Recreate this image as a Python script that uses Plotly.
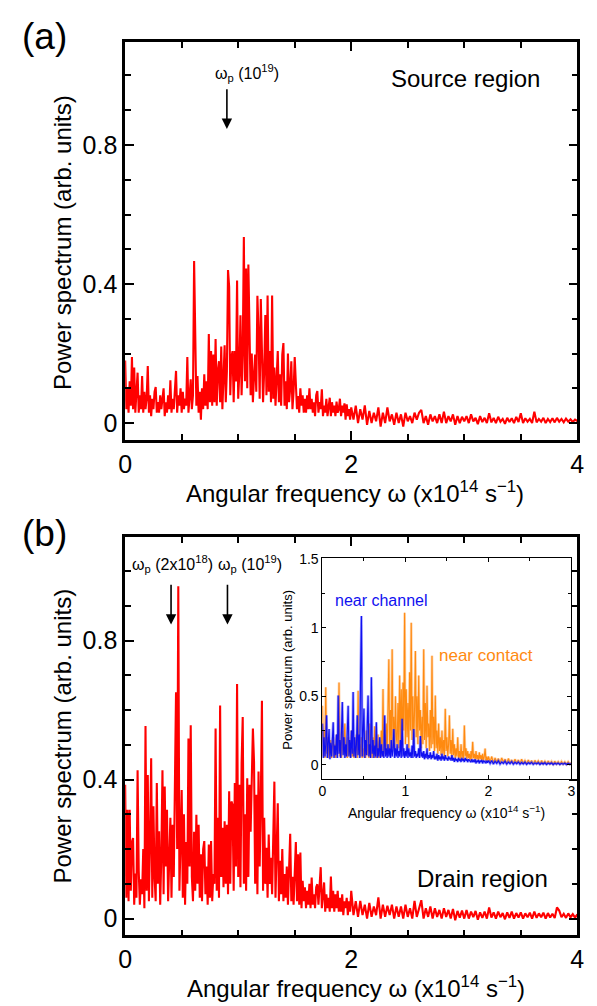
import numpy as np
import plotly.graph_objects as go

# ---------------- data ----------------
# frequency grids (x10^14 s^-1)
freq_main = np.round(np.concatenate([np.arange(0, 201) * 0.01, 2 + np.arange(1, 101) * 0.02]), 3)
freq_inset = np.round(np.concatenate([np.arange(0, 201) * 0.01, 2 + np.arange(1, 51) * 0.02]), 3)

# Panel (a): source region power spectrum
source_power = [
    0.18, 0.04, 0.10, 0.03, 0.12, 0.05, 0.19, 0.04, 0.16, 0.03,
    0.09, 0.145, 0.03, 0.08, 0.04, 0.135, 0.03, 0.09, 0.04, 0.07,
    0.164, 0.03, 0.08, 0.02, 0.07, 0.04, 0.09, 0.104, 0.03, 0.06,
    0.03, 0.08, 0.04, 0.07, 0.10, 0.02, 0.06, 0.03, 0.08, 0.04,
    0.123, 0.03, 0.07, 0.04, 0.09, 0.15, 0.03, 0.08, 0.05, 0.10,
    0.03, 0.09, 0.04, 0.07, 0.05, 0.19, 0.03, 0.10, 0.126, 0.04,
    0.08, 0.466, 0.235, 0.05, 0.135, 0.03, 0.09, 0.01, 0.10, 0.04,
    0.14, 0.05, 0.12, 0.04, 0.256, 0.06, 0.207, 0.05, 0.197, 0.06,
    0.242, 0.05, 0.15, 0.178, 0.06, 0.22, 0.04, 0.13, 0.224, 0.06,
    0.15, 0.44, 0.392, 0.08, 0.19, 0.207, 0.06, 0.207, 0.12, 0.41,
    0.07, 0.145, 0.31, 0.08, 0.20, 0.535, 0.12, 0.445, 0.10, 0.456,
    0.292, 0.08, 0.20, 0.06, 0.135, 0.197, 0.09, 0.366, 0.26, 0.07,
    0.357, 0.197, 0.06, 0.15, 0.311, 0.08, 0.367, 0.09, 0.207, 0.06,
    0.367, 0.07, 0.16, 0.05, 0.12, 0.207, 0.06, 0.14, 0.05, 0.197,
    0.23, 0.05, 0.12, 0.04, 0.20, 0.06, 0.10, 0.178, 0.04, 0.09,
    0.19, 0.13, 0.04, 0.078, 0.03, 0.10, 0.05, 0.08, 0.03, 0.07,
    0.03, 0.08, 0.04, 0.10, 0.04, 0.07, 0.03, 0.06, 0.02, 0.08,
    0.092, 0.03, 0.06, 0.04, 0.097, 0.02, 0.05, 0.03, 0.07, 0.02,
    0.05, 0.073, 0.02, 0.06, 0.03, 0.05, 0.02, 0.062, 0.03, 0.04,
    0.07, 0.02, 0.05, 0.03, 0.057, 0.01, 0.054, 0.02, 0.04, 0.01,
    0.045,
    0.01, 0.05, 0.00, 0.04, 0.01, 0.051, -0.005, 0.035, 0.00, 0.03,
    0.005, 0.045, -0.01, 0.03, 0.00, 0.045, 0.005, 0.025, -0.005, 0.03,
    0.00, 0.025, -0.01, 0.03, 0.005, 0.02, 0.00, 0.03, 0.01, 0.03,
    0.038, 0.00, 0.02, -0.005, 0.025, 0.005, 0.02, 0.00, 0.025, 0.00,
    0.033, 0.00, 0.02, 0.005, 0.025, -0.005, 0.02, 0.00, 0.018, 0.005,
    0.02, 0.00, 0.025, 0.005, 0.015, -0.003, 0.02, 0.003, 0.015, 0.00,
    0.028, 0.002, 0.015, 0.00, 0.018, 0.004, 0.012, -0.002, 0.015, 0.003,
    0.014, 0.00, 0.018, 0.003, 0.028, 0.00, 0.014, 0.004, 0.012, 0.00,
    0.033, 0.002, 0.012, 0.004, 0.015, 0.00, 0.012, 0.003, 0.014, 0.002,
    0.015, 0.004, 0.012, 0.002, 0.013, 0.004, 0.011, 0.003, 0.01, 0.006,
]

# Panel (b): drain region power spectrum
drain_power = [
    0.385, 0.06, 0.313, 0.05, 0.313, 0.08, 0.22, 0.232, 0.04, 0.13,
    0.06, 0.427, 0.137, 0.04, 0.113, 0.07, 0.20, 0.03, 0.554, 0.08,
    0.413, 0.05, 0.22, 0.461, 0.06, 0.323, 0.12, 0.05, 0.39, 0.10,
    0.251, 0.04, 0.18, 0.427, 0.07, 0.38, 0.15, 0.313, 0.05, 0.20,
    0.29, 0.06, 0.27, 0.12, 0.47, 0.651, 0.20, 0.956, 0.08, 0.25,
    0.37, 0.06, 0.30, 0.04, 0.22, 0.10, 0.518, 0.15, 0.556, 0.12,
    0.05, 0.25, 0.08, 0.299, 0.10, 0.27, 0.06, 0.185, 0.05, 0.20,
    0.223, 0.07, 0.15, 0.04, 0.213, 0.06, 0.223, 0.05, 0.128, 0.10,
    0.547, 0.08, 0.29, 0.06, 0.613, 0.12, 0.261, 0.09, 0.28, 0.10,
    0.27, 0.07, 0.366, 0.10, 0.337, 0.328, 0.08, 0.39, 0.15, 0.675,
    0.12, 0.385, 0.09, 0.447, 0.58, 0.10, 0.30, 0.08, 0.404, 0.12,
    0.385, 0.25, 0.47, 0.547, 0.451, 0.10, 0.356, 0.07, 0.423, 0.15,
    0.337, 0.627, 0.08, 0.29, 0.10, 0.204, 0.06, 0.242, 0.10, 0.175,
    0.07, 0.28, 0.394, 0.06, 0.223, 0.332, 0.05, 0.166, 0.07, 0.20,
    0.05, 0.128, 0.06, 0.15, 0.04, 0.147, 0.244, 0.05, 0.12, 0.04,
    0.128, 0.22, 0.05, 0.185, 0.04, 0.19, 0.03, 0.109, 0.05, 0.09,
    0.03, 0.08, 0.04, 0.10, 0.03, 0.118, 0.04, 0.07, 0.03, 0.09,
    0.099, 0.04, 0.094, 0.148, 0.03, 0.08, 0.104, 0.02, 0.07, 0.03,
    0.06, 0.02, 0.121, 0.03, 0.08, 0.02, 0.07, 0.03, 0.08, 0.02,
    0.06, 0.02, 0.07, 0.01, 0.05, 0.03, 0.06, 0.01, 0.05, 0.02,
    0.08,
    0.01, 0.05, 0.005, 0.051, 0.01, 0.04, 0.00, 0.045, 0.005, 0.035,
    0.01, 0.061, 0.00, 0.04, 0.005, 0.037, 0.01, 0.04, 0.00, 0.035,
    0.005, 0.035, 0.00, 0.04, 0.005, 0.03, 0.00, 0.051, 0.005, 0.03,
    0.053, 0.00, 0.03, 0.005, 0.035, 0.00, 0.03, 0.005, 0.025, 0.00,
    0.03, 0.005, 0.025, 0.00, 0.028, -0.005, 0.022, 0.003, 0.023, 0.00,
    0.025, 0.00, 0.02, 0.004, 0.022, -0.003, 0.018, 0.002, 0.02, 0.00,
    0.032, 0.003, 0.018, 0.00, 0.02, 0.004, 0.016, -0.002, 0.018, 0.002,
    0.02, 0.00, 0.016, 0.003, 0.018, 0.00, 0.015, 0.004, 0.017, 0.00,
    0.02, 0.002, 0.015, 0.004, 0.017, 0.00, 0.016, 0.003, 0.014, 0.002,
    0.032, 0.023, 0.004, 0.014, 0.002, 0.015, 0.004, 0.013, 0.003, 0.012,
]

# Inset: near channel (blue) and near contact (orange)
near_channel = [
    0.30, 0.05, 0.20, 0.06, 0.15, 0.36, 0.05, 0.18, 0.26, 0.04,
    0.16, 0.06, 0.20, 0.31, 0.05, 0.14, 0.07, 0.22, 0.05, 0.505,
    0.08, 0.18, 0.05, 0.25, 0.457, 0.07, 0.20, 0.05, 0.15, 0.06,
    0.22, 0.43, 0.06, 0.18, 0.05, 0.25, 0.08, 0.53, 0.06, 0.20,
    0.05, 0.15, 0.36, 0.07, 0.22, 0.05, 0.686, 1.085, 0.06, 0.20,
    0.41, 0.05, 0.18, 0.07, 0.25, 0.505, 0.06, 0.15, 0.05, 0.638,
    0.08, 0.18, 0.05, 0.14, 0.06, 0.31, 0.05, 0.12, 0.06, 0.20,
    0.05, 0.15, 0.06, 0.10, 0.05, 0.36, 0.06, 0.12, 0.05, 0.15,
    0.06, 0.12, 0.05, 0.18, 0.06, 0.10, 0.26, 0.05, 0.12, 0.06,
    0.15, 0.05, 0.10, 0.06, 0.18, 0.05, 0.336, 0.06, 0.12, 0.05,
    0.10, 0.06, 0.15, 0.05, 0.12, 0.06, 0.09, 0.05, 0.14, 0.05,
    0.26, 0.06, 0.10, 0.05, 0.08, 0.06, 0.12, 0.05, 0.21, 0.06,
    0.09, 0.05, 0.10, 0.04, 0.08, 0.05, 0.12, 0.04, 0.07, 0.05,
    0.09, 0.04, 0.07, 0.05, 0.10, 0.04, 0.06, 0.04, 0.08, 0.03,
    0.07, 0.04, 0.06, 0.03, 0.08, 0.04, 0.06, 0.03, 0.07, 0.04,
    0.05, 0.03, 0.06, 0.04, 0.05, 0.03, 0.07, 0.03, 0.05, 0.02,
    0.05, 0.03, 0.04, 0.02, 0.05, 0.03, 0.04, 0.02, 0.05, 0.03,
    0.04, 0.02, 0.05, 0.03, 0.04, 0.02, 0.04, 0.03, 0.03, 0.02,
    0.04, 0.02, 0.03, 0.02, 0.04, 0.01, 0.03, 0.02, 0.035, 0.01,
    0.03, 0.02, 0.035, 0.01, 0.03, 0.02, 0.025, 0.01, 0.03, 0.015,
    0.03,
    0.01, 0.03, 0.005, 0.025, 0.01, 0.028, 0.005, 0.02, 0.01, 0.025,
    0.005, 0.02, 0.008, 0.022, 0.004, 0.018, 0.008, 0.02, 0.004, 0.016,
    0.006, 0.018, 0.003, 0.015, 0.007, 0.017, 0.003, 0.014, 0.006, 0.015,
    0.002, 0.013, 0.005, 0.014, 0.002, 0.012, 0.005, 0.013, 0.002, 0.011,
    0.004, 0.012, 0.002, 0.01, 0.004, 0.011, 0.002, 0.01, 0.003, 0.008,
]

near_contact = [
    0.43, 0.06, 0.25, 0.05, 0.565, 0.08, 0.20, 0.05, 0.15, 0.07,
    0.18, 0.05, 0.12, 0.20, 0.06, 0.15, 0.05, 0.22, 0.08, 0.14,
    0.60, 0.06, 0.18, 0.05, 0.25, 0.08, 0.15, 0.30, 0.06, 0.12,
    0.05, 0.20, 0.07, 0.15, 0.05, 0.25, 0.06, 0.12, 0.05, 0.18,
    0.07, 0.22, 0.05, 0.54, 0.08, 0.15, 0.06, 0.20, 0.05, 0.12,
    0.06, 0.18, 0.05, 0.25, 0.07, 0.15, 0.05, 0.30, 0.06, 0.14,
    0.05, 0.20, 0.07, 0.28, 0.05, 0.15, 0.06, 0.22, 0.05, 0.18,
    0.10, 0.25, 0.06, 0.553, 0.08, 0.22, 0.10, 0.30, 0.07, 0.45,
    0.77, 0.10, 0.40, 0.15, 0.843, 0.12, 0.35, 0.10, 0.50, 0.20,
    0.15, 0.45, 0.12, 0.65, 0.18, 0.55, 0.10, 0.60, 0.25, 1.109,
    0.15, 0.55, 0.20, 0.45, 0.12, 0.674, 0.25, 1.036, 0.18, 0.50,
    0.15, 0.40, 0.83, 0.20, 0.50, 0.15, 0.65, 0.25, 0.40, 0.12,
    0.35, 0.15, 0.843, 0.18, 0.45, 0.12, 0.577, 0.20, 0.30, 0.10,
    0.40, 0.12, 0.795, 0.15, 0.35, 0.10, 0.505, 0.12, 0.25, 0.08,
    0.30, 0.10, 0.20, 0.07, 0.25, 0.08, 0.18, 0.06, 0.408, 0.10,
    0.20, 0.06, 0.15, 0.36, 0.08, 0.18, 0.05, 0.263, 0.07, 0.15,
    0.05, 0.12, 0.06, 0.20, 0.05, 0.10, 0.04, 0.15, 0.05, 0.10,
    0.04, 0.287, 0.06, 0.12, 0.04, 0.10, 0.05, 0.08, 0.03, 0.10,
    0.04, 0.167, 0.05, 0.08, 0.03, 0.10, 0.04, 0.07, 0.03, 0.09,
    0.04, 0.07, 0.03, 0.08, 0.03, 0.06, 0.118, 0.03, 0.06, 0.02,
    0.06,
    0.02, 0.06, 0.015, 0.05, 0.02, 0.045, 0.01, 0.05, 0.02, 0.04,
    0.01, 0.045, 0.015, 0.035, 0.01, 0.04, 0.012, 0.035, 0.008, 0.04,
    0.01, 0.03, 0.008, 0.035, 0.01, 0.03, 0.006, 0.032, 0.01, 0.028,
    0.005, 0.03, 0.008, 0.025, 0.005, 0.028, 0.007, 0.024, 0.004, 0.026,
    0.006, 0.022, 0.004, 0.024, 0.005, 0.02, 0.003, 0.022, 0.005, 0.015,
]

assert len(source_power) == len(freq_main)
assert len(drain_power) == len(freq_main)
assert len(near_channel) == len(freq_inset)
assert len(near_contact) == len(freq_inset)

main_xticks = [0, 2, 4]
main_yticks = [0, 0.4, 0.8]
inset_xticks = [0, 1, 2, 3]
inset_yticks = [0, 0.5, 1, 1.5]

# ---------------- figure ----------------
W, H = 597, 1006
FONT = "Liberation Sans, Arial, Helvetica, sans-serif"
RED = "#ff0000"
BLUE = "#1010f0"
ORANGE = "#ff8a10"


def px(x):
    return x / W


def py(y):
    return 1 - y / H


fig = go.Figure()

fig.add_trace(go.Scatter(x=freq_main, y=source_power, mode="lines",
                         line=dict(color=RED, width=2.1), xaxis="x", yaxis="y",
                         showlegend=False))
fig.add_trace(go.Scatter(x=freq_main, y=drain_power, mode="lines",
                         line=dict(color=RED, width=2.1), xaxis="x2", yaxis="y2",
                         showlegend=False))
# inset: halo + line for each series
fig.add_trace(go.Scatter(x=freq_inset, y=near_contact, mode="lines",
                         line=dict(color="rgba(255,170,90,0.5)", width=2.6),
                         xaxis="x3", yaxis="y3", showlegend=False))
fig.add_trace(go.Scatter(x=freq_inset, y=near_contact, mode="lines",
                         line=dict(color=ORANGE, width=1.1),
                         xaxis="x3", yaxis="y3", showlegend=False))
fig.add_trace(go.Scatter(x=freq_inset, y=near_channel, mode="lines",
                         line=dict(color="rgba(60,60,255,0.5)", width=2.6),
                         xaxis="x3", yaxis="y3", showlegend=False))
fig.add_trace(go.Scatter(x=freq_inset, y=near_channel, mode="lines",
                         line=dict(color=BLUE, width=1.1),
                         xaxis="x3", yaxis="y3", showlegend=False))

main_dom_x = [px(121), px(584)]
dom_a = [py(436), py(35)]
dom_b = [py(935), py(534)]
yr = [-0.0486, 1.097]


def main_xaxis(anchor):
    return dict(domain=main_dom_x, range=[0, 4], anchor=anchor,
                tickvals=main_xticks, ticktext=[str(t) for t in main_xticks],
                ticks="inside", ticklen=9, tickwidth=2, tickcolor="black",
                minor=dict(dtick=0.5, tick0=0, ticks="inside", ticklen=6,
                           tickwidth=1.6, tickcolor="black"),
                showline=True, linewidth=2.6, linecolor="black", mirror="allticks",
                showgrid=False, zeroline=False,
                tickfont=dict(family=FONT, size=25, color="black"))


def main_yaxis(anchor, dom):
    return dict(domain=dom, range=yr, anchor=anchor,
                tickvals=main_yticks, ticktext=["0", "0.4", "0.8"],
                ticks="inside", ticklen=9, tickwidth=2, tickcolor="black",
                minor=dict(dtick=0.1, tick0=0, ticks="inside", ticklen=6,
                           tickwidth=1.6, tickcolor="black"),
                showline=True, linewidth=2.6, linecolor="black", mirror="allticks",
                showgrid=False, zeroline=False,
                tickfont=dict(family=FONT, size=25, color="black"))


fig.update_layout(
    width=W, height=H,
    margin=dict(l=0, r=0, t=0, b=0),
    paper_bgcolor="white", plot_bgcolor="white",
    font=dict(family=FONT, color="black"),
    xaxis=main_xaxis("y"),
    yaxis=main_yaxis("x", dom_a),
    xaxis2=main_xaxis("y2"),
    yaxis2=main_yaxis("x2", dom_b),
    xaxis3=dict(domain=[px(323), px(578)], range=[0, 3], anchor="y3",
                tickvals=inset_xticks, ticktext=[str(t) for t in inset_xticks],
                ticks="inside", ticklen=4, tickwidth=1, tickcolor="black",
                minor=dict(dtick=0.5, tick0=0, ticks="inside", ticklen=3,
                           tickwidth=1, tickcolor="black"),
                showline=True, linewidth=1, linecolor="black", mirror="allticks",
                showgrid=False, zeroline=False,
                tickfont=dict(family=FONT, size=14, color="black")),
    yaxis3=dict(domain=[py(777), py(555)], range=[-0.101, 1.507], anchor="x3",
                tickvals=inset_yticks, ticktext=["0", "0.5", "1", "1.5"],
                ticks="inside", ticklen=4, tickwidth=1, tickcolor="black",
                minor=dict(dtick=0.25, tick0=0, ticks="inside", ticklen=3,
                           tickwidth=1, tickcolor="black"),
                showline=True, linewidth=1, linecolor="black", mirror="allticks",
                showgrid=False, zeroline=False,
                tickfont=dict(family=FONT, size=14, color="black")),
)

ann = []


def text(x, y, s, size, color="black", angle=0):
    ann.append(dict(x=px(x), y=py(y), xref="paper", yref="paper", text=s,
                    showarrow=False, textangle=angle, xanchor="center", yanchor="middle",
                    font=dict(family=FONT, size=size, color=color)))


xtitle = "Angular frequency ω (x10<sup>14</sup> s<sup>−1</sup>)"
ytitle = "Power spectrum (arb. units)"

text(38, 30, "(a)", 37)
text(38, 530, "(b)", 37)
text(57, 237, ytitle, 24, angle=-90)
text(57, 734, ytitle, 24, angle=-90)
text(356, 488, xtitle, 24)
text(357, 987, xtitle, 24)
text(470, 72, "Source region", 24)
text(487, 878, "Drain region", 24)
text(246, 66, "ω<sub>p</sub> (10<sup>19</sup>)", 16)
text(169, 561, "ω<sub>p</sub> (2x10<sup>18</sup>)", 16)
text(249, 561, "ω<sub>p</sub> (10<sup>19</sup>)", 16)
text(287, 667, ytitle, 13, angle=-90)
text(450, 811, xtitle, 14)
text(383, 598, "near channel", 16, color=BLUE)
text(490, 653, "near contact", 17, color=ORANGE)

# arrows marking plasma frequencies (data coordinates)
for xa, ya, xv in [("x", "y", 0.9), ("x2", "y2", 0.406), ("x2", "y2", 0.905)]:
    ann.append(dict(x=xv, y=0.846, xref=xa, yref=ya, ax=xv, ay=0.965,
                    axref=xa, ayref=ya, showarrow=True, arrowhead=2,
                    arrowsize=1.3, arrowwidth=1.6, arrowcolor="black", text=""))

fig.update_layout(annotations=ann)

fig.write_html("out.html")
